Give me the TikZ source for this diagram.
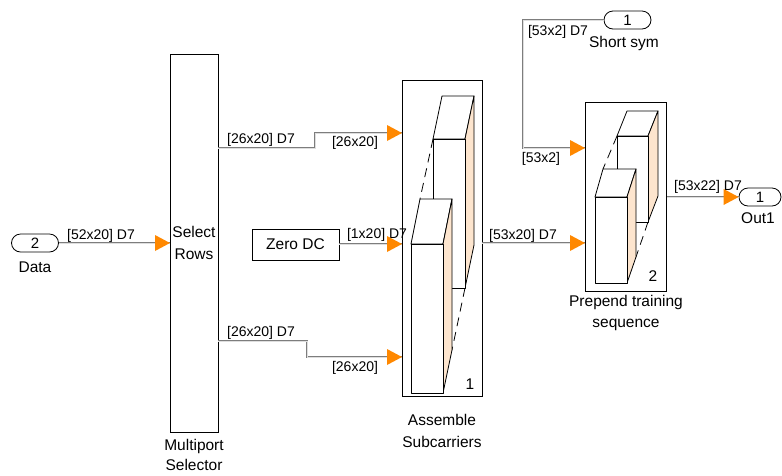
\documentclass[tikz,border=0pt]{standalone}
\usepackage{fontspec}
\setmainfont{Liberation Sans}
\usetikzlibrary{shapes.misc}
\definecolor{arrowc}{RGB}{255,136,0}
\definecolor{sidec}{RGB}{253,229,206}
\definecolor{busc}{RGB}{125,125,125}
\definecolor{busin}{RGB}{222,222,222}
\newcommand\arrtip[1]{\fill[arrowc] (#1) -- ++(-15,-8) -- ++(0,16) -- cycle;}
\begin{document}
\begin{tikzpicture}[x=1pt,y=-1pt,
 blk/.style={draw=black,line width=0.8pt,fill=white,inner sep=0pt},
 pillport/.style={draw=black,line width=0.8pt,rounded rectangle,minimum width=47pt,minimum height=18pt,inner sep=0pt,font=\fontsize{15}{17}\selectfont},
 txt/.style={font=\fontsize{15.5}{21.5}\selectfont,inner sep=0pt,align=center},
 lbl/.style={font=\fontsize{14}{16}\selectfont,inner sep=0pt},
 bus/.style={draw=busc,double=busin,line width=0.8pt,double distance=0.9pt},
 face/.style={draw=black,line width=0.8pt,line join=round},
 hid/.style={draw=black,line width=0.8pt,dash pattern=on 9pt off 6pt}]
\useasboundingbox (0,0) rectangle (782,475);

% blocks
\node[pillport] (data) at (35,243) {2};
\node[txt] (datal) at (35,267) {Data};
\node[blk,txt,minimum width=48pt,minimum height=378pt] (mps) at (194,243) {Select\\Rows};
\node[txt,font=\fontsize{15.5}{19.5}\selectfont] (mpsl) at (194,455) {Multiport\\Selector};
\node[blk,txt,minimum width=87pt,minimum height=31pt] (zero) at (295.5,244.5) {Zero DC};
\node[blk,minimum width=80pt,minimum height=316pt] (asm) at (442,238) {};
\node[txt] (asml) at (442,431) {Assemble\\Subcarriers};
\node[blk,minimum width=81pt,minimum height=189pt] (pre) at (626,196.5) {};
\node[txt] (prel) at (626,313) {Prepend training\\sequence};
\node[pillport] (short) at (627.5,20) {1};
\node[txt] (shortl) at (624,43) {Short sym};
\node[pillport,minimum width=42pt] (out) at (760,197) {1};
\node[txt] (outl) at (758,218) {Out1};

% ports
\coordinate (mpsin) at (170,243);
\coordinate (m1) at (218,148);
\coordinate (m2) at (218,341);
\coordinate (a1) at (402,133);
\coordinate (a2) at (402,244);
\coordinate (a3) at (402,357);
\coordinate (aout) at (482,243);
\coordinate (p1) at (585,148);
\coordinate (p2) at (585,243);
\coordinate (pout) at (667,197);

% labels
\node[lbl] (l52) at (101,236) {[52x20] D7};
\node[lbl] (l26a) at (261,140) {[26x20] D7};
\node[lbl] (l26b) at (355,143) {[26x20]};
\node[lbl] (l26c) at (261,333) {[26x20] D7};
\node[lbl] (l26d) at (355,368) {[26x20]};
\node[lbl] (l1x20) at (377,235) {[1x20] D7};
\node[lbl] (l53x20) at (523,236) {[53x20] D7};
\node[lbl] (l53x2a) at (558,32) {[53x2] D7};
\node[lbl] (l53x2b) at (541,159) {[53x2]};
\node[lbl] (l53x22) at (708,187) {[53x22] D7};

% connectors
\draw[bus] (data.east) -- (mpsin);
\draw[bus] (m1) -- (315,148) -- (315,133) -- (a1);
\draw[bus] (m2) -- (307,341) -- (307,357) -- (a3);
\draw[bus] (zero.east |- a2) -- (a2);
\draw[bus] (aout) -- (p2);
\draw[bus] (short.west) -- (523,20) -- (523,148) -- (p1);
\draw[bus] (pout) -- (out.west);
\arrtip{mpsin}
\arrtip{a1}
\arrtip{a2}
\arrtip{a3}
\arrtip{p1}
\arrtip{p2}
\arrtip{out.west}

% Assemble icon
\draw[hid] (433,139) -- (420,199);
\draw[hid] (465,139) -- (452,199);
\draw[hid] (465,288) -- (452,350);
\filldraw[face,fill=white] (433,139) -- (442,96) -- (474,96) -- (465,139) -- cycle;
\filldraw[face,fill=sidec] (465,139) -- (474,96) -- (474,245) -- (465,288) -- cycle;
\filldraw[face,fill=white] (433,139) rectangle (465,288);
\filldraw[face,fill=white] (411,244) -- (420,199) -- (452,199) -- (443,244) -- cycle;
\filldraw[face,fill=sidec] (443,244) -- (452,199) -- (452,350) -- (443,393) -- cycle;
\filldraw[face,fill=white] (411,244) rectangle (443,393);
\node[txt] (n1) at (470,384) {1};

% Prepend icon
\draw[hid] (617,136) -- (603,169);
\draw[hid] (648,136) -- (636,169);
\draw[hid] (648,222) -- (636,257);
\filldraw[face,fill=white] (617,136) -- (627,111) -- (658,111) -- (648,136) -- cycle;
\filldraw[face,fill=sidec] (648,136) -- (658,111) -- (658,196) -- (648,222) -- cycle;
\filldraw[face,fill=white] (617,136) rectangle (648,222);
\filldraw[face,fill=white] (595,197) -- (603,169) -- (636,169) -- (627,197) -- cycle;
\filldraw[face,fill=sidec] (627,197) -- (636,169) -- (636,257) -- (627,283) -- cycle;
\filldraw[face,fill=white] (595,197) rectangle (627,283);
\node[txt] (n2) at (653,276) {2};
\end{tikzpicture}
\end{document}
